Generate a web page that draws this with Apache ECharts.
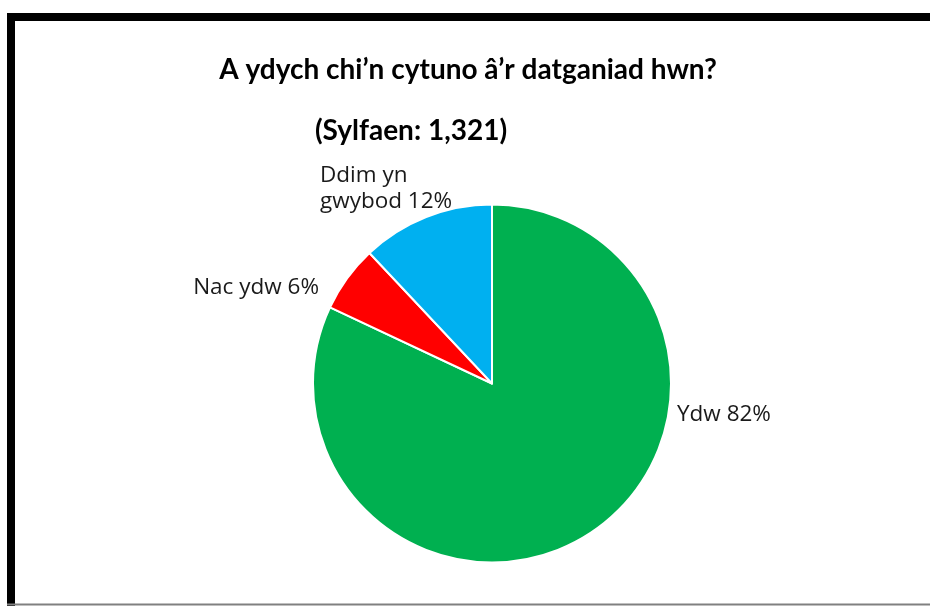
<!DOCTYPE html>
<html>
<head>
<meta charset="utf-8">
<script src="https://cdn.jsdelivr.net/npm/echarts@6/dist/echarts.min.js"></script>
<style>
  html, body { margin: 0; padding: 0; background: #fff; }
  #chart { width: 930px; height: 606px; }
</style>
</head>
<body>
<div id="chart"></div>
<script>
// data
const categories = ["Ydw", "Nac ydw", "Ddim yn\ngwybod"];
const values = [82, 6, 12];
const colors = ["#00B050", "#FF0000", "#00B0F0"];

// where each label sits (Excel "best fit" placement)
const labelPos = [
  { x: 677, y: 415, align: "left", verticalAlign: "middle" },
  { x: 319, y: 288, align: "right", verticalAlign: "middle" },
  { x: 320, y: 189, align: "left", verticalAlign: "middle" }
];

const chart = echarts.init(document.getElementById("chart"));

const titleStyle = { fontFamily: "Lato", fontWeight: "bold", fontSize: 28, color: "#000" };

const option = {
  backgroundColor: "#fff",
  animation: false,
  title: [
    {
      text: "A ydych chi\u2019n cytuno \u00e2\u2019r datganiad hwn?",
      left: 463,
      top: 51,
      textAlign: "center",
      textStyle: titleStyle
    },
    {
      text: "(Sylfaen: 1,321)",
      left: 406,
      top: 112,
      textAlign: "center",
      textStyle: titleStyle
    }
  ],
  graphic: [
    {
      type: "polyline",
      shape: { points: [[11, 620], [11, 17], [940, 17]] },
      style: { stroke: "#000", lineWidth: 8, fill: null }
    },
    {
      type: "line",
      shape: { x1: 7, y1: 604.5, x2: 930, y2: 604.5 },
      style: { stroke: "#808080", lineWidth: 2 }
    }
  ],
  series: [
    {
      type: "pie",
      center: [492, 383.5],
      radius: 179,
      startAngle: 90,
      clockwise: true,
      silent: true,
      itemStyle: { borderColor: "#fff", borderWidth: 2 },
      data: categories.map((name, i) => ({
        name: name,
        value: values[i],
        itemStyle: { color: colors[i] }
      })),
      label: {
        show: true,
        position: "outside",
        formatter: "{b} {c}%",
        fontFamily: "Open Sans",
        fontSize: 22.5,
        lineHeight: 26,
        color: "#1a1a1a"
      },
      labelLine: { show: false },
      labelLayout: (params) => labelPos[params.dataIndex]
    }
  ]
};

chart.setOption(option);
</script>
</body>
</html>
